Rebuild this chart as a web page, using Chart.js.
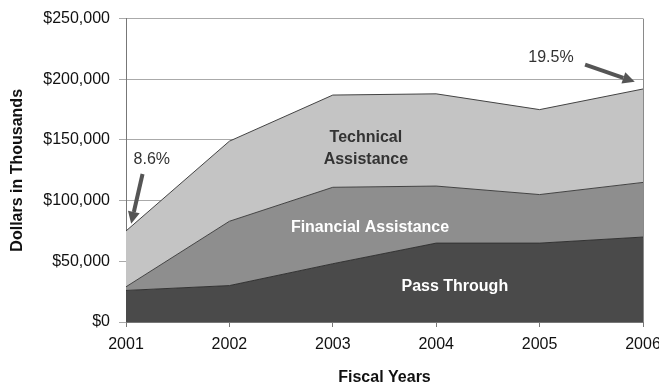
<!DOCTYPE html>
<html>
<head>
<meta charset="utf-8">
<script src="https://cdn.jsdelivr.net/npm/chart.js@4/dist/chart.umd.min.js"></script>
<style>
  html, body { margin: 0; padding: 0; background: #fff; }
  #wrap { width: 659px; height: 389px; }
</style>
</head>
<body>
<div id="wrap"><canvas id="myChart" width="659" height="389"></canvas></div>
<script>
var years = ["2001", "2002", "2003", "2004", "2005", "2006"];
var passThrough = [26000, 30000, 48000, 65000, 65000, 70000];
var financialAssistance = [3000, 53000, 63000, 47000, 40000, 45000];
var technicalAssistance = [46000, 66000, 76000, 76000, 70000, 77000];
var yTicks = [0, 50000, 100000, 150000, 200000, 250000];

// callouts placed in data units (category index, value)
var labelNotes = [
  { text: ["Technical", "Assistance"], x: 2.32, y: 143000, color: "#333", size: 16 },
  { text: ["Financial Assistance"], x: 2.36, y: 78000, color: "#fff", size: 16 },
  { text: ["Pass Through"], x: 3.18, y: 29000, color: "#fff", size: 16 },
  { text: ["8.6%"], x: 0.25, y: 134000, color: "#333", size: 16, bold: false },
  { text: ["19.5%"], x: 4.11, y: 218000, color: "#333", size: 16, bold: false }
];
var arrows = [
  { from: [0.16, 122000], to: [0.05, 81000] },
  { from: [4.44, 212000], to: [4.92, 198000] }
];

var fontFam = "'Liberation Sans', Arial, sans-serif";

var notesPlugin = {
  id: "notes",
  afterDatasetsDraw: function (chart) {
    var ctx = chart.ctx;
    var xs = chart.scales.x, ys = chart.scales.y;
    var area = chart.chartArea;
    ctx.save();
    // right border of the plot
    ctx.strokeStyle = "#8a8a8a";
    ctx.lineWidth = 1;
    ctx.beginPath();
    ctx.moveTo(Math.round(area.right) + 0.5, area.top);
    ctx.lineTo(Math.round(area.right) + 0.5, area.bottom);
    ctx.stroke();

    labelNotes.forEach(function (n) {
      var px = xs.getPixelForValue(n.x);
      var py = ys.getPixelForValue(n.y);
      ctx.font = (n.bold === false ? "" : "bold ") + n.size + "px " + fontFam;
      ctx.fillStyle = n.color;
      ctx.textAlign = "center";
      ctx.textBaseline = "middle";
      var lh = n.size * 1.4;
      var start = py - (n.text.length - 1) * lh / 2;
      n.text.forEach(function (t, i) { ctx.fillText(t, px, start + i * lh); });
    });

    arrows.forEach(function (a) {
      var x1 = xs.getPixelForValue(a.from[0]), y1 = ys.getPixelForValue(a.from[1]);
      var x2 = xs.getPixelForValue(a.to[0]), y2 = ys.getPixelForValue(a.to[1]);
      var ang = Math.atan2(y2 - y1, x2 - x1);
      var head = 12;
      var bx = x2 - head * Math.cos(ang), by = y2 - head * Math.sin(ang);
      ctx.strokeStyle = "#555";
      ctx.fillStyle = "#555";
      ctx.lineWidth = 4;
      ctx.beginPath();
      ctx.moveTo(x1, y1);
      ctx.lineTo(bx, by);
      ctx.stroke();
      ctx.beginPath();
      ctx.moveTo(x2, y2);
      ctx.lineTo(bx + 6 * Math.sin(ang), by - 6 * Math.cos(ang));
      ctx.lineTo(bx - 6 * Math.sin(ang), by + 6 * Math.cos(ang));
      ctx.closePath();
      ctx.fill();
    });
    ctx.restore();
  }
};

new Chart("myChart", {
  type: "line",
  data: {
    labels: years,
    datasets: [
      { label: "Pass Through", data: passThrough, fill: "origin",
        backgroundColor: "#4a4a4a", borderColor: "#333", borderWidth: 1 },
      { label: "Financial Assistance", data: financialAssistance, fill: "-1",
        backgroundColor: "#8e8e8e", borderColor: "#444", borderWidth: 1 },
      { label: "Technical Assistance", data: technicalAssistance, fill: "-1",
        backgroundColor: "#c4c4c4", borderColor: "#444", borderWidth: 1 }
    ]
  },
  options: {
    responsive: false,
    animation: false,
    layout: { padding: { top: 16, right: 16, bottom: 0, left: 0 } },
    elements: { point: { radius: 0 }, line: { tension: 0 } },
    plugins: {
      legend: { display: false },
      tooltip: { enabled: false }
    },
    scales: {
      x: {
        stacked: true,
        offset: false,
        grid: { display: true, drawOnChartArea: false, drawTicks: true, tickLength: 5, color: "#777" },
        border: { display: true, color: "#777" },
        ticks: { color: "#111", font: { family: fontFam, size: 16 }, padding: 8, maxRotation: 0, autoSkip: false },
        title: { display: true, text: "Fiscal Years", color: "#111",
                 font: { family: fontFam, size: 16, weight: "bold" }, padding: { top: 0, bottom: 2 } },
        afterFit: function (axis) { axis.height = 67; axis.paddingLeft = 0; axis.paddingRight = 0; }
      },
      y: {
        stacked: true,
        min: 0,
        max: 250000,
        afterBuildTicks: function (axis) { axis.ticks = yTicks.map(function (v) { return { value: v }; }); },
        grid: { color: "#aaa", tickLength: 7, drawTicks: true },
        border: { display: true, color: "#777" },
        ticks: {
          color: "#111",
          font: { family: fontFam, size: 16 },
          padding: 9,
          callback: function (v) { return "$" + v.toLocaleString("en-US"); }
        },
        title: { display: true, text: "Dollars in Thousands", color: "#111",
                 font: { family: fontFam, size: 16, weight: "bold" }, padding: { top: 8, bottom: 0 } },
        afterFit: function (axis) { axis.width = 126; }
      }
    }
  },
  plugins: [notesPlugin]
});
</script>
</body>
</html>
